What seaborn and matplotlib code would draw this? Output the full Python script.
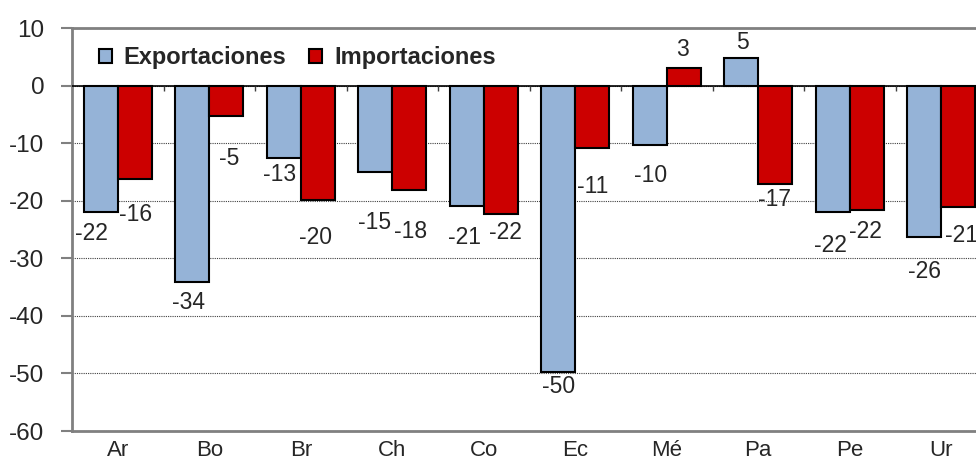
import numpy as np
import pandas as pd
import matplotlib.pyplot as plt
import seaborn as sns

sns.set_style('white')
plt.rcParams['font.family'] = ['Liberation Sans', 'DejaVu Sans']
plt.rcParams['axes.unicode_minus'] = False

paises = ['Ar', 'Bo', 'Br', 'Ch', 'Co', 'Ec', 'Mé', 'Pa', 'Pe', 'Ur']
exportaciones = [-22.0, -34.2, -12.6, -15.0, -20.9, -49.7, -10.4, 4.8, -22.0, -26.3]
importaciones = [-16.2, -5.2, -19.8, -18.1, -22.3, -10.8, 3.1, -17.1, -21.6, -21.1]
series = ['Exportaciones', 'Importaciones']
colores = ['#95b3d7', '#cc0000']
y_ticks = list(range(-60, 11, 10))

# label offsets in px from the bar end (the original labels were dragged around by hand)
off_exp = [(-9, -21), (-4, -20), (-4, -16), (-1, -51), (-2, -32),
           (0, -15), (1, -30), (1, 15), (-2, -33), (0, -35)]
off_imp = [(1, -36), (3, -43), (-2, -38), (1, -42), (5, -19),
           (1, -39), (-1, 18), (-1, -15), (-1, -22), (3, -28)]

df = pd.DataFrame({
    'pais': paises * 2,
    'serie': [series[0]] * len(paises) + [series[1]] * len(paises),
    'valor': exportaciones + importaciones,
})

fig = plt.figure(figsize=(9.76, 4.68), dpi=100)
ax = fig.add_axes([72 / 976, 37 / 468, 915 / 976, 403 / 468])

sns.barplot(data=df, x='pais', y='valor', hue='serie', palette=colores,
            width=0.74, gap=0, saturation=1, edgecolor='black', linewidth=1.5,
            errorbar=None, ax=ax)

ax.set_xlim(-0.5, len(paises) - 0.5)
ax.set_ylim(-60, 10)
ax.set_yticks(y_ticks)
ax.set_xlabel('')
ax.set_ylabel('')
ax.yaxis.grid(True, color='#404040', linestyle=(0, (1, 1)), linewidth=0.8)
ax.set_axisbelow(True)
for s in ['left', 'bottom', 'top']:
    ax.spines[s].set_color('#808080')
    ax.spines[s].set_linewidth(2)
ax.spines['right'].set_visible(False)
ax.tick_params(axis='y', left=True, length=8, width=1.5, color='#808080', pad=12, labelsize=17.5)
ax.tick_params(axis='x', length=0, pad=6.5, labelsize=16)

# category axis at zero with small ticks between groups
ax.axhline(0, color='black', linewidth=1.2, zorder=3)
ax.vlines(np.arange(len(paises)) + 0.5, -0.9, 0, color='#404040', linewidth=1, zorder=3)

for cont, vals, offs in zip(ax.containers, [exportaciones, importaciones], [off_exp, off_imp]):
    for bar, v, (dx, dy) in zip(cont, vals, offs):
        ax.annotate(f'{v:.0f}', (bar.get_x() + bar.get_width() / 2, v),
                    xytext=(dx, dy), textcoords='offset pixels',
                    ha='center', va='center', fontsize=16.5)

handles, labels = ax.get_legend_handles_labels()
ax.legend(handles, labels, ncol=2, loc='center left', bbox_to_anchor=(0.0295, 0.9256),
          frameon=False, handlelength=0.55, handleheight=0.55, handletextpad=0.5,
          columnspacing=0.97, borderpad=0, borderaxespad=0,
          prop={'weight': 'bold', 'size': 17})

fig.savefig('out.png', dpi=100)
